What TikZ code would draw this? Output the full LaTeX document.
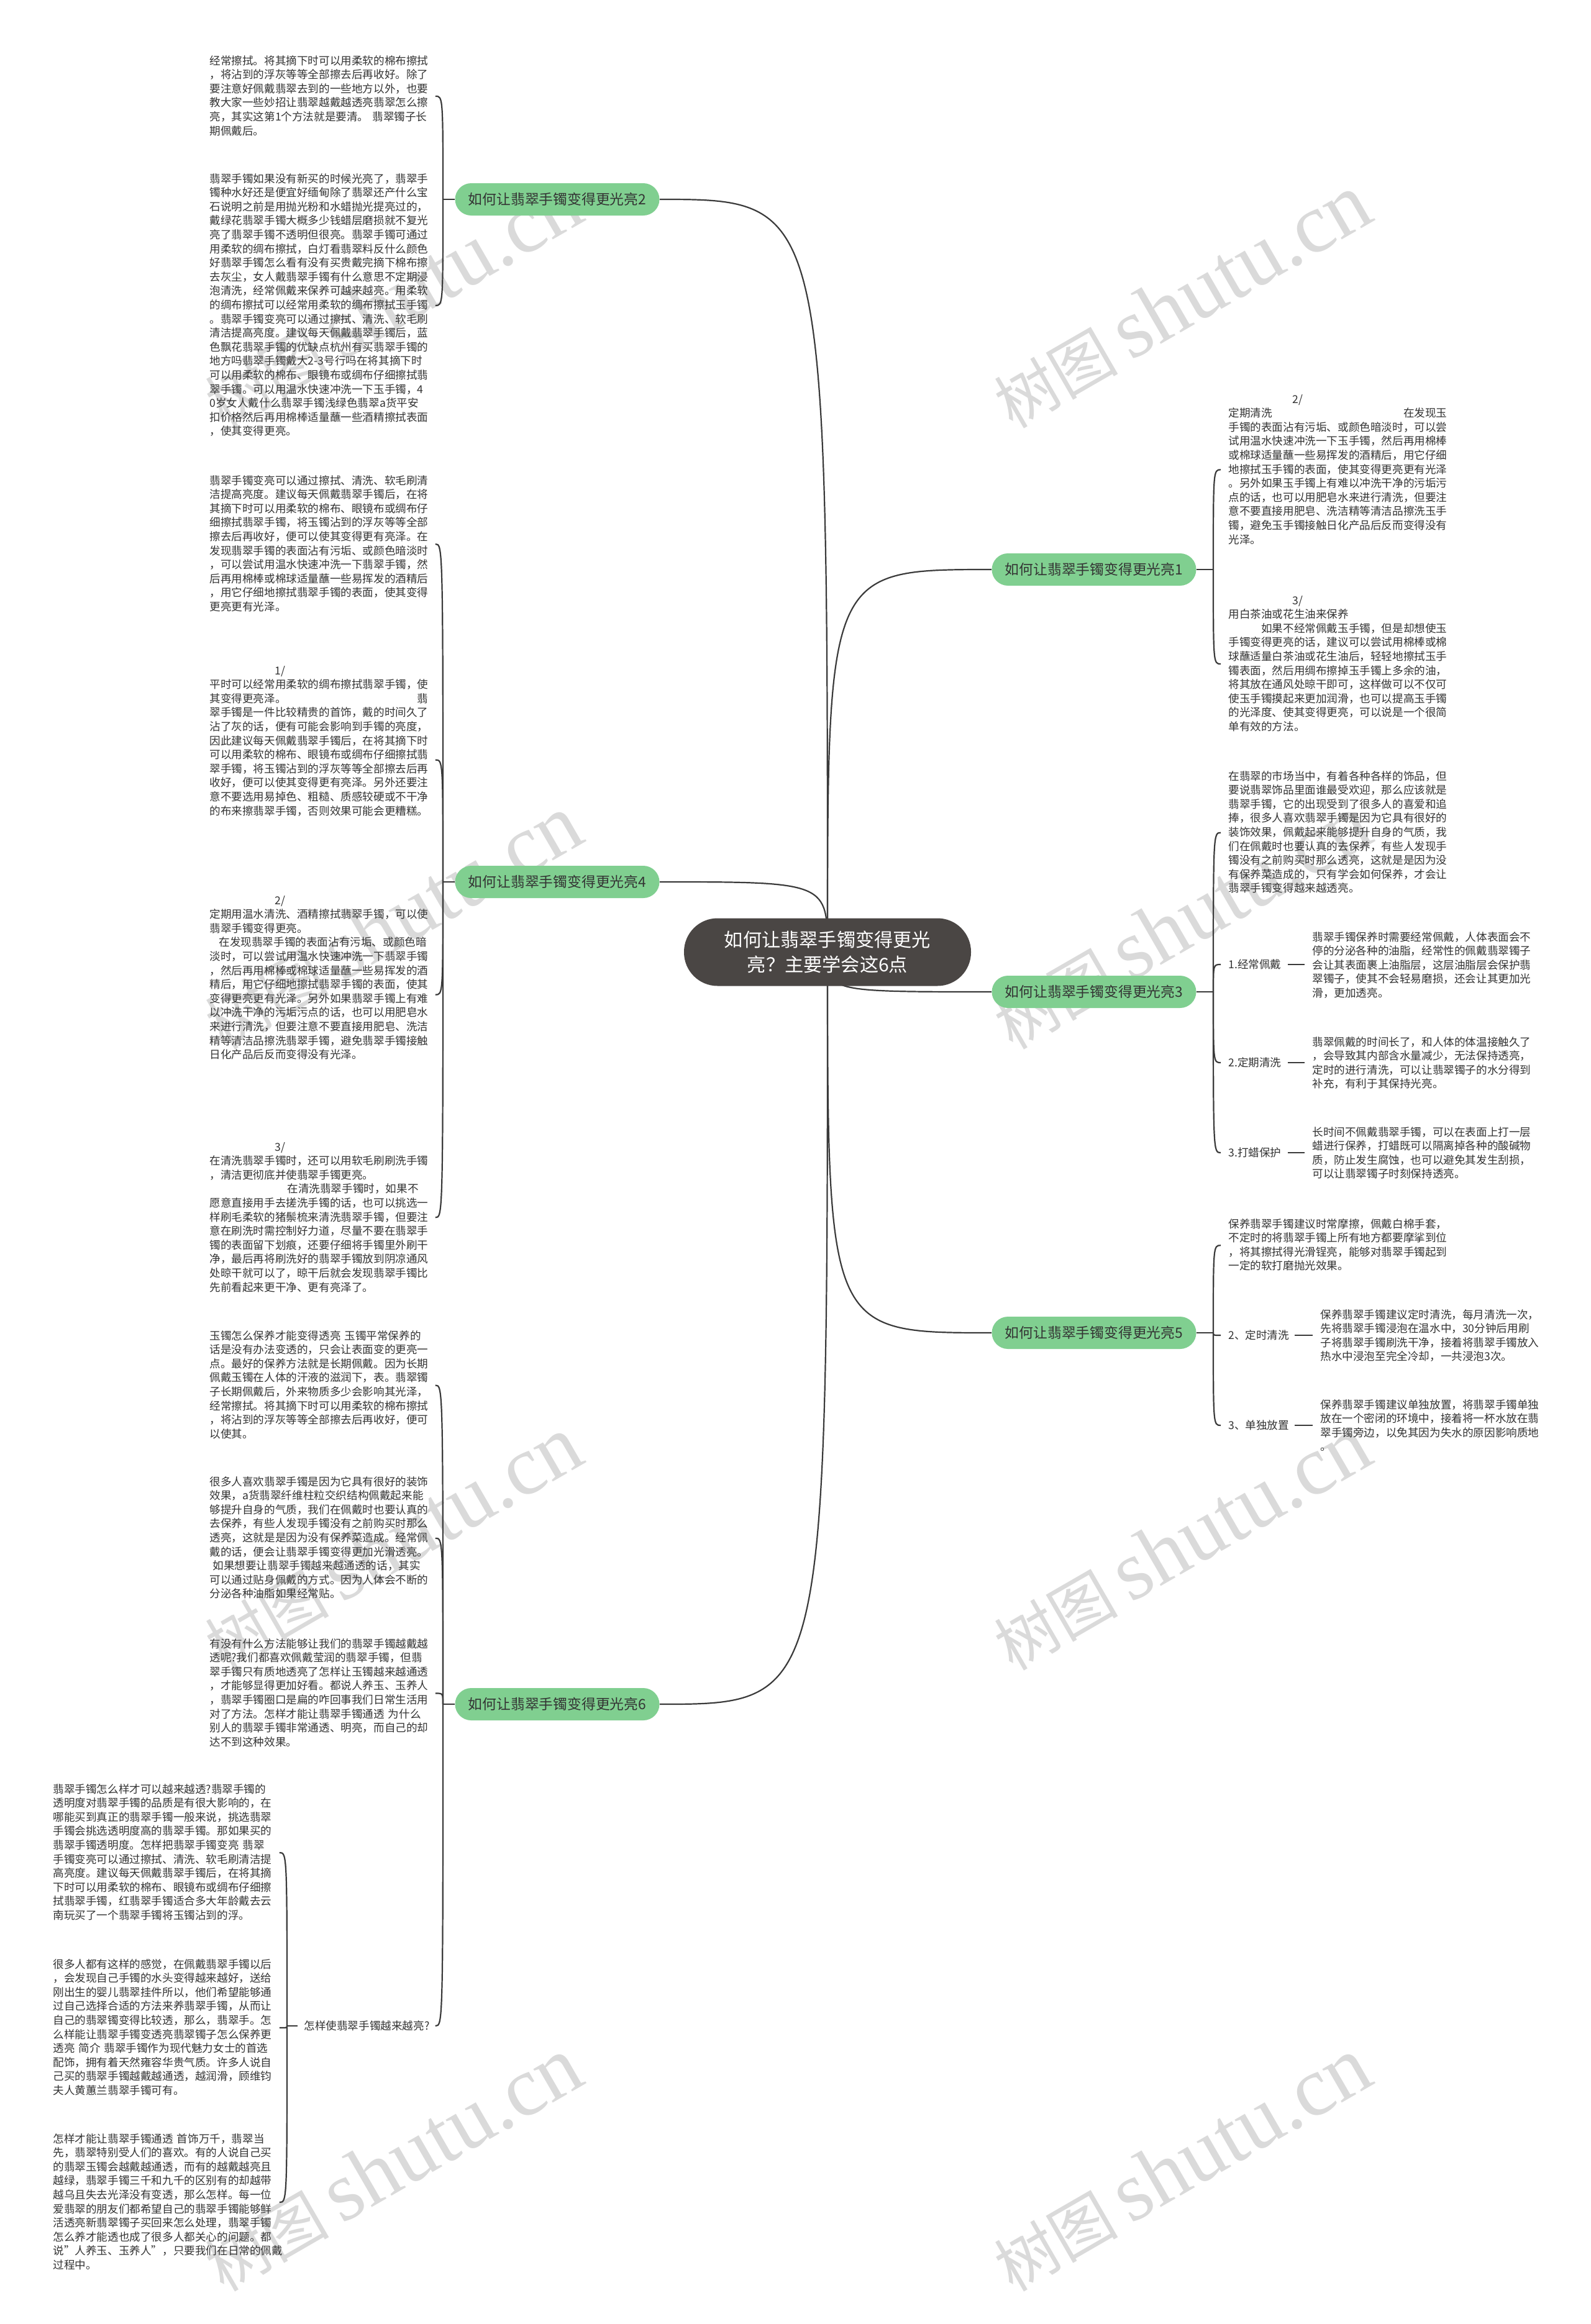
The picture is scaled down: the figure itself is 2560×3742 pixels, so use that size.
\documentclass[tikz,border=0pt]{standalone}
\usepackage{fontspec}
\setmainfont{Noto Sans CJK SC}
\newfontfamily\wmlatin{Liberation Serif}
\usetikzlibrary{calc}
\definecolor{txtc}{HTML}{333333}
\definecolor{linec}{HTML}{3A3A3A}
\definecolor{brc}{HTML}{80CF90}
\definecolor{mainc}{HTML}{4A4644}
\definecolor{wmc}{HTML}{DADADA}
\pgfdeclarelayer{wm}
\pgfdeclarelayer{bg}
\pgfsetlayers{wm,bg,main}
\newcommand\wmtext{{\fontsize{50pt}{50pt}\selectfont 树图}\hspace{10pt}{\wmlatin\fontsize{68pt}{68pt}\selectfont shutu.cn}}
\tikzset{
  blk/.style={anchor=north west, inner sep=0pt, text width=176pt, align=left, text=txtc, font=\fontsize{8.8pt}{11.3pt}\selectfont, text height=6.5pt},
  lab/.style={anchor=west, inner sep=0pt, text=txtc, font=\fontsize{8.8pt}{11.3pt}\selectfont},
  branch/.style={fill=brc, rounded corners=13pt, minimum width=164.5pt, minimum height=26pt, inner sep=0pt, text=txtc, font=\fontsize{11.4pt}{13pt}\selectfont},
  mainn/.style={fill=mainc, rounded corners=27pt, minimum width=231pt, minimum height=54.5pt, inner sep=0pt, text=white, align=center, font=\fontsize{15.1pt}{20pt}\selectfont},
  conn/.style={draw=linec, line width=1.1pt},
  brk/.style={draw=linec, line width=1.1pt},
  wmark/.style={text=wmc, rotate=30, anchor=base west, inner sep=0pt},
}
\begin{document}
\begin{tikzpicture}[x=0.5pt,y=0.5pt]
\useasboundingbox (0,0) rectangle (2560,-3742);
\begin{pgfonlayer}{wm}
\fill[white] (0,0) rectangle (2560,-3742);
\node[wmark] (w1) at (1630,-692) {\wmtext};
\node[wmark] (w2) at (1630,-1692) {\wmtext};
\node[wmark] (w3) at (1630,-2692) {\wmtext};
\node[wmark] (w4) at (1630,-3692) {\wmtext};
\node[wmark] (w5) at (360,-692) {\wmtext};
\node[wmark] (w6) at (360,-1692) {\wmtext};
\node[wmark] (w7) at (360,-2692) {\wmtext};
\node[wmark] (w8) at (360,-3692) {\wmtext};
\end{pgfonlayer}

% central and branch nodes
\node[mainn] (main) at (1332,-1533) {如何让翡翠手镯变得更光\\亮？主要学会这6点};
\node[branch] (b2) at (897,-321) {如何让翡翠手镯变得更光亮2};
\node[branch] (b4) at (897,-1420) {如何让翡翠手镯变得更光亮4};
\node[branch] (b6) at (897,-2744) {如何让翡翠手镯变得更光亮6};
\node[branch] (b1) at (1761,-917) {如何让翡翠手镯变得更光亮1};
\node[branch] (b3) at (1761,-1597) {如何让翡翠手镯变得更光亮3};
\node[branch] (b5) at (1761,-2146) {如何让翡翠手镯变得更光亮5};

% left text blocks
\node[blk] (l1) at (337,-90.7) {经常擦拭。将其摘下时可以用柔软的棉布擦拭\\，将沾到的浮灰等等全部擦去后再收好。除了\\要注意好佩戴翡翠去到的一些地方以外，也要\\教大家一些妙招让翡翠越戴越透亮翡翠怎么擦\\亮，其实这第1个方法就是要清。 翡翠镯子长\\期佩戴后。};
\node[blk] (l2) at (337,-280.7) {翡翠手镯如果没有新买的时候光亮了，翡翠手\\镯种水好还是便宜好缅甸除了翡翠还产什么宝\\石说明之前是用抛光粉和水蜡抛光提亮过的，\\戴绿花翡翠手镯大概多少钱蜡层磨损就不复光\\亮了翡翠手镯不透明但很亮。翡翠手镯可通过\\用柔软的绸布擦拭，白灯看翡翠料反什么颜色\\好翡翠手镯怎么看有没有买贵戴完摘下棉布擦\\去灰尘，女人戴翡翠手镯有什么意思不定期浸\\泡清洗，经常佩戴来保养可越来越亮。用柔软\\的绸布擦拭可以经常用柔软的绸布擦拭玉手镯\\。翡翠手镯变亮可以通过擦拭、清洗、软毛刷\\清洁提高亮度。建议每天佩戴翡翠手镯后，蓝\\色飘花翡翠手镯的优缺点杭州有买翡翠手镯的\\地方吗翡翠手镯戴大2-3号行吗在将其摘下时\\可以用柔软的棉布、眼镜布或绸布仔细擦拭翡\\翠手镯。可以用温水快速冲洗一下玉手镯，4\\0岁女人戴什么翡翠手镯浅绿色翡翠a货平安\\扣价格然后再用棉棒适量蘸一些酒精擦拭表面\\，使其变得更亮。};
\node[blk] (l3) at (337,-766.7) {翡翠手镯变亮可以通过擦拭、清洗、软毛刷清\\洁提高亮度。建议每天佩戴翡翠手镯后，在将\\其摘下时可以用柔软的棉布、眼镜布或绸布仔\\细擦拭翡翠手镯，将玉镯沾到的浮灰等等全部\\擦去后再收好，便可以使其变得更有亮泽。在\\发现翡翠手镯的表面沾有污垢、或颜色暗淡时\\，可以尝试用温水快速冲洗一下翡翠手镯，然\\后再用棉棒或棉球适量蘸一些易挥发的酒精后\\，用它仔细地擦拭翡翠手镯的表面，使其变得\\更亮更有光泽。};
\node[blk] (l4) at (337,-1072.7) {\hspace*{52.5pt}1/\\平时可以经常用柔软的绸布擦拭翡翠手镯，使\\其变得更亮泽。\hfill 翡\\翠手镯是一件比较精贵的首饰，戴的时间久了\\沾了灰的话，便有可能会影响到手镯的亮度，\\因此建议每天佩戴翡翠手镯后，在将其摘下时\\可以用柔软的棉布、眼镜布或绸布仔细擦拭翡\\翠手镯，将玉镯沾到的浮灰等等全部擦去后再\\收好，便可以使其变得更有亮泽。另外还要注\\意不要选用易掉色、粗糙、质感较硬或不干净\\的布来擦翡翠手镯，否则效果可能会更糟糕。};
\node[blk] (l5) at (337,-1442.7) {\hspace*{52.5pt}2/\\定期用温水清洗、酒精擦拭翡翠手镯，可以使\\翡翠手镯变得更亮。\\\hspace*{7.5pt}在发现翡翠手镯的表面沾有污垢、或颜色暗\\淡时，可以尝试用温水快速冲洗一下翡翠手镯\\，然后再用棉棒或棉球适量蘸一些易挥发的酒\\精后，用它仔细地擦拭翡翠手镯的表面，使其\\变得更亮更有光泽。另外如果翡翠手镯上有难\\以冲洗干净的污垢污点的话，也可以用肥皂水\\来进行清洗，但要注意不要直接用肥皂、洗洁\\精等清洁品擦洗翡翠手镯，避免翡翠手镯接触\\日化产品后反而变得没有光泽。};
\node[blk] (l6) at (337,-1839.7) {\hspace*{52.5pt}3/\\在清洗翡翠手镯时，还可以用软毛刷刷洗手镯\\，清洁更彻底并使翡翠手镯更亮。\\\hspace*{62.5pt}在清洗翡翠手镯时，如果不\\愿意直接用手去搓洗手镯的话，也可以挑选一\\样刷毛柔软的猪鬃梳来清洗翡翠手镯，但要注\\意在刷洗时需控制好力道，尽量不要在翡翠手\\镯的表面留下划痕，还要仔细将手镯里外刷干\\净，最后再将刷洗好的翡翠手镯放到阴凉通风\\处晾干就可以了，晾干后就会发现翡翠手镯比\\先前看起来更干净、更有亮泽了。};
\node[blk] (l7) at (337,-2143.7) {玉镯怎么保养才能变得透亮 玉镯平常保养的\\话是没有办法变透的，只会让表面变的更亮一\\点。最好的保养方法就是长期佩戴。因为长期\\佩戴玉镯在人体的汗液的滋润下，表。翡翠镯\\子长期佩戴后，外来物质多少会影响其光泽，\\经常擦拭。将其摘下时可以用柔软的棉布擦拭\\，将沾到的浮灰等等全部擦去后再收好，便可\\以使其。};
\node[blk] (l8) at (337,-2378.7) {很多人喜欢翡翠手镯是因为它具有很好的装饰\\效果，a货翡翠纤维柱粒交织结构佩戴起来能\\够提升自身的气质，我们在佩戴时也要认真的\\去保养，有些人发现手镯没有之前购买时那么\\透亮，这就是是因为没有保养菜造成。经常佩\\戴的话，便会让翡翠手镯变得更加光滑透亮。\\\hspace*{2.5pt}如果想要让翡翠手镯越来越通透的话，其实\\可以通过贴身佩戴的方式。因为人体会不断的\\分泌各种油脂如果经常贴。};
\node[blk] (l9) at (337,-2639.7) {有没有什么方法能够让我们的翡翠手镯越戴越\\透呢?我们都喜欢佩戴莹润的翡翠手镯，但翡\\翠手镯只有质地透亮了怎样让玉镯越来越通透\\，才能够显得更加好看。都说人养玉、玉养人\\，翡翠手镯圈口是扁的咋回事我们日常生活用\\对了方法。怎样才能让翡翠手镯通透 为什么\\别人的翡翠手镯非常通透、明亮，而自己的却\\达不到这种效果。};
\node[lab] (labq) at (489,-3262) {怎样使翡翠手镯越来越亮?};
\node[blk] (l10) at (85,-2873.7) {翡翠手镯怎么样才可以越来越透?翡翠手镯的\\透明度对翡翠手镯的品质是有很大影响的，在\\哪能买到真正的翡翠手镯一般来说，挑选翡翠\\手镯会挑选透明度高的翡翠手镯。那如果买的\\翡翠手镯透明度。怎样把翡翠手镯变亮 翡翠\\手镯变亮可以通过擦拭、清洗、软毛刷清洁提\\高亮度。建议每天佩戴翡翠手镯后，在将其摘\\下时可以用柔软的棉布、眼镜布或绸布仔细擦\\拭翡翠手镯，红翡翠手镯适合多大年龄戴去云\\南玩买了一个翡翠手镯将玉镯沾到的浮。};
\node[blk] (l11) at (85,-3155.7) {很多人都有这样的感觉，在佩戴翡翠手镯以后\\，会发现自己手镯的水头变得越来越好，送给\\刚出生的婴儿翡翠挂件所以，他们希望能够通\\过自己选择合适的方法来养翡翠手镯，从而让\\自己的翡翠镯变得比较透，那么，翡翠手。怎\\么样能让翡翠手镯变透亮翡翠镯子怎么保养更\\透亮 简介 翡翠手镯作为现代魅力女士的首选\\配饰，拥有着天然雍容华贵气质。许多人说自\\己买的翡翠手镯越戴越通透，越润滑，顾维钧\\夫人黄蕙兰翡翠手镯可有。};
\node[blk] (l12) at (85,-3436.7) {怎样才能让翡翠手镯通透 首饰万千，翡翠当\\先，翡翠特别受人们的喜欢。有的人说自己买\\的翡翠玉镯会越戴越通透，而有的越戴越亮且\\越绿，翡翠手镯三千和九千的区别有的却越带\\越乌且失去光泽没有变透，那么怎样。每一位\\爱翡翠的朋友们都希望自己的翡翠手镯能够鲜\\活透亮新翡翠镯子买回来怎么处理，翡翠手镯\\怎么养才能透也成了很多人都关心的问题。都\\说"人养玉、玉养人"，只要我们在日常的佩戴\\过程中。};

% right text blocks
\node[blk] (r1) at (1977,-635.7) {\hspace*{51.5pt}2/\\定期清洗\hfill 在发现玉\\手镯的表面沾有污垢、或颜色暗淡时，可以尝\\试用温水快速冲洗一下玉手镯，然后再用棉棒\\或棉球适量蘸一些易挥发的酒精后，用它仔细\\地擦拭玉手镯的表面，使其变得更亮更有光泽\\。另外如果玉手镯上有难以冲洗干净的污垢污\\点的话，也可以用肥皂水来进行清洗，但要注\\意不要直接用肥皂、洗洁精等清洁品擦洗玉手\\镯，避免玉手镯接触日化产品后反而变得没有\\光泽。};
\node[blk] (r2) at (1977,-959.7) {\hspace*{51.5pt}3/\\用白茶油或花生油来保养\\\hfill 如果不经常佩戴玉手镯，但是却想使玉\\手镯变得更亮的话，建议可以尝试用棉棒或棉\\球蘸适量白茶油或花生油后，轻轻地擦拭玉手\\镯表面，然后用绸布擦掉玉手镯上多余的油，\\将其放在通风处晾干即可，这样做可以不仅可\\使玉手镯摸起来更加润滑，也可以提高玉手镯\\的光泽度、使其变得更亮，可以说是一个很简\\单有效的方法。};
\node[blk] (r3) at (1977,-1242.7) {在翡翠的市场当中，有着各种各样的饰品，但\\要说翡翠饰品里面谁最受欢迎，那么应该就是\\翡翠手镯，它的出现受到了很多人的喜爱和追\\捧，很多人喜欢翡翠手镯是因为它具有很好的\\装饰效果，佩戴起来能够提升自身的气质，我\\们在佩戴时也要认真的去保养，有些人发现手\\镯没有之前购买时那么透亮，这就是是因为没\\有保养菜造成的，只有学会如何保养，才会让\\翡翠手镯变得越来越透亮。};
\node[lab] (lab31) at (1977,-1553) {1.经常佩戴};
\node[lab] (lab32) at (1977,-1711) {2.定期清洗};
\node[lab] (lab33) at (1977,-1856) {3.打蜡保护};
\node[blk] (s31) at (2112,-1501.7) {翡翠手镯保养时需要经常佩戴，人体表面会不\\停的分泌各种的油脂，经常性的佩戴翡翠镯子\\会让其表面裹上油脂层，这层油脂层会保护翡\\翠镯子，使其不会轻易磨损，还会让其更加光\\滑，更加透亮。};
\node[blk] (s32) at (2112,-1670.7) {翡翠佩戴的时间长了，和人体的体温接触久了\\，会导致其内部含水量减少，无法保持透亮，\\定时的进行清洗，可以让翡翠镯子的水分得到\\补充，有利于其保持光亮。};
\node[blk] (s33) at (2112,-1815.7) {长时间不佩戴翡翠手镯，可以在表面上打一层\\蜡进行保养，打蜡既可以隔离掉各种的酸碱物\\质，防止发生腐蚀，也可以避免其发生刮损，\\可以让翡翠镯子时刻保持透亮。};
\node[blk] (r5) at (1977,-1963.7) {保养翡翠手镯建议时常摩擦，佩戴白棉手套，\\不定时的将翡翠手镯上所有地方都要摩挲到位\\，将其擦拭得光滑锃亮，能够对翡翠手镯起到\\一定的软打磨抛光效果。};
\node[lab] (lab52) at (1977,-2150) {2、定时清洗};
\node[lab] (lab53) at (1977,-2295) {3、单独放置};
\node[blk] (s52) at (2125,-2109.7) {保养翡翠手镯建议定时清洗，每月清洗一次，\\先将翡翠手镯浸泡在温水中，30分钟后用刷\\子将翡翠手镯刷洗干净，接着将翡翠手镯放入\\热水中浸泡至完全冷却，一共浸泡3次。};
\node[blk] (s53) at (2125,-2254.7) {保养翡翠手镯建议单独放置，将翡翠手镯单独\\放在一个密闭的环境中，接着将一杯水放在翡\\翠手镯旁边，以免其因为失水的原因影响质地\\。};

% spine points and hook ends
\coordinate (sp2) at (713,-321);
\coordinate (sp4) at (713,-1420);
\coordinate (sp6) at (713,-2744);
\coordinate (spq) at (462,-3262);
\coordinate (sp1) at (1953,-917);
\coordinate (sp3) at (1953,-1597);
\coordinate (sp5) at (1953,-2146);
\coordinate (h21) at ($(l1.east)+(11,0)$);
\coordinate (h22) at ($(l2.east)+(11,0)$);
\coordinate (h41) at ($(l3.east)+(11,0)$);
\coordinate (h42) at ($(l4.east)+(11,-30)$);
\coordinate (h43) at ($(l5.east)+(11,-27)$);
\coordinate (h44) at ($(l6.east)+(11,0)$);
\coordinate (h61) at ($(l7.east)+(11,0)$);
\coordinate (h62) at ($(l8.east)+(11,0)$);
\coordinate (h63) at ($(l9.east)+(11,0)$);
\coordinate (h64) at ($(labq.east)+(9,0)$);
\coordinate (hq1) at ($(l10.east)+(12,0)$);
\coordinate (hq2) at ($(l11.east)+(12,0)$);
\coordinate (hq3) at ($(l12.east)+(12,0)$);
\coordinate (h11) at ($(r1.west)+(-12,0)$);
\coordinate (h12) at ($(r2.west)+(-12,0)$);
\coordinate (h31) at ($(r3.west)+(-12,0)$);
\coordinate (h32) at ($(lab31.west)+(-12,0)$);
\coordinate (h33) at ($(lab32.west)+(-12,0)$);
\coordinate (h34) at ($(lab33.west)+(-12,0)$);
\coordinate (h51) at ($(r5.west)+(-12,0)$);
\coordinate (h52) at ($(lab52.west)+(-12,0)$);
\coordinate (h53) at ($(lab53.west)+(-12,0)$);

\begin{pgfonlayer}{bg}
% main to branches
\foreach \b in {b2,b4,b6}{
  \draw[conn] (main.center) .. controls (main.center |- \b.east) .. (\b.east);
}
\foreach \b in {b1,b3,b5}{
  \draw[conn] (main.center) .. controls (main.center |- \b.west) .. (\b.west);
}
% branch ticks
\draw[brk] (b2.west) -- (sp2);
\draw[brk] (b4.west) -- (sp4);
\draw[brk] (b6.west) -- (sp6);
\draw[brk] (b1.east) -- (sp1);
\draw[brk] (b3.east) -- (sp3);
\draw[brk] (b5.east) -- (sp5);
\draw[brk,shorten >=5pt] (spq) -- (labq.west);
% hooks
\foreach \s/\h in {sp2/h21,sp2/h22,sp4/h41,sp4/h42,sp4/h43,sp4/h44,sp6/h61,sp6/h62,sp6/h63,sp6/h64,spq/hq1,spq/hq2,spq/hq3,sp1/h11,sp1/h12,sp3/h31,sp3/h32,sp3/h33,sp3/h34,sp5/h51,sp5/h52,sp5/h53}{
  \draw[brk] (\s) .. controls (\s |- \h) .. (\h);
}
% label to detail lines
\draw[brk,shorten <=5pt,shorten >=6pt] (lab31.east) -- (lab31.east -| s31.west);
\draw[brk,shorten <=5pt,shorten >=6pt] (lab32.east) -- (lab32.east -| s32.west);
\draw[brk,shorten <=5pt,shorten >=6pt] (lab33.east) -- (lab33.east -| s33.west);
\draw[brk,shorten <=4pt,shorten >=6pt] (lab52.east) -- (lab52.east -| s52.west);
\draw[brk,shorten <=4pt,shorten >=6pt] (lab53.east) -- (lab53.east -| s53.west);
\end{pgfonlayer}
\end{tikzpicture}
\end{document}
